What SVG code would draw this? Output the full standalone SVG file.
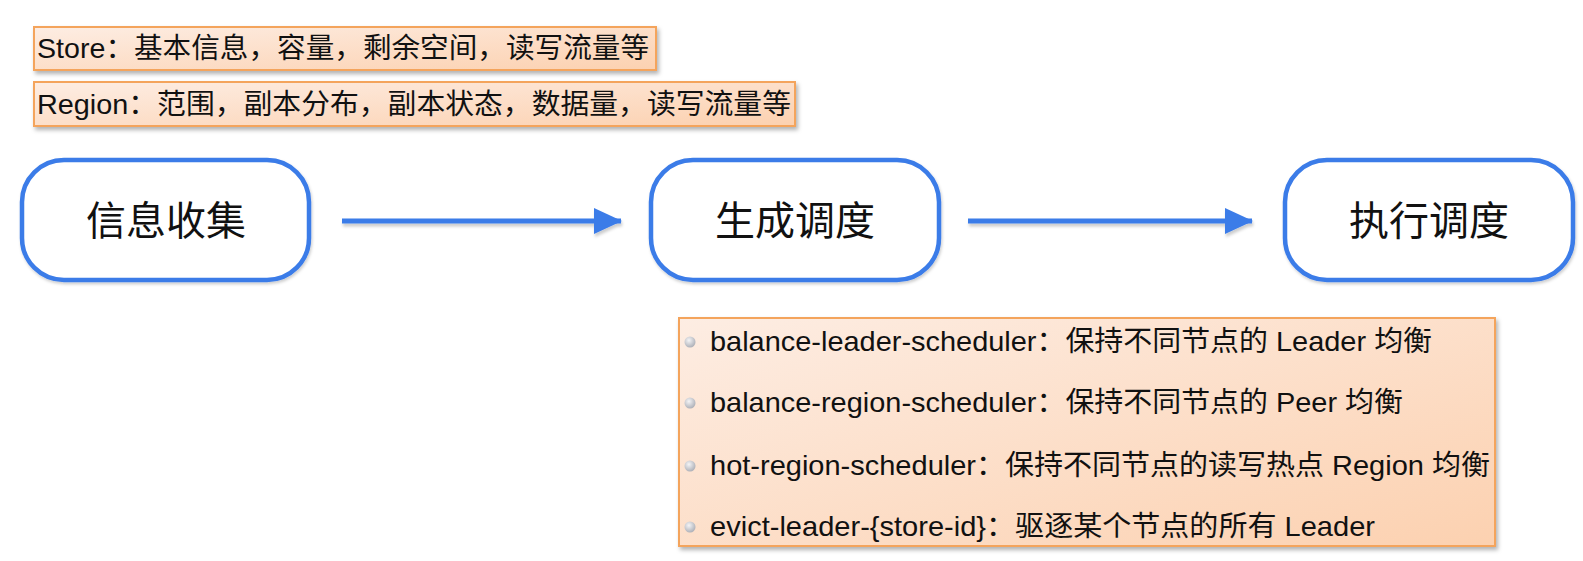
<svg xmlns="http://www.w3.org/2000/svg" width="1583" height="561" viewBox="0 0 1583 561">
<defs>
<linearGradient id="og" x1="0" y1="0" x2="1" y2="1">
<stop offset="0" stop-color="#fdede3"/>
<stop offset="1" stop-color="#fcd1b0"/>
</linearGradient>
<radialGradient id="bul" cx="0.4" cy="0.35" r="0.7">
<stop offset="0" stop-color="#f4f4f6"/>
<stop offset="1" stop-color="#a9acb4"/>
</radialGradient>
<filter id="sh" x="-5%" y="-20%" width="110%" height="150%">
<feDropShadow dx="2" dy="3" stdDeviation="2" flood-color="#000" flood-opacity="0.3"/>
</filter>
<filter id="nsh" x="-5%" y="-10%" width="110%" height="130%">
<feDropShadow dx="1" dy="2" stdDeviation="1.5" flood-color="#000" flood-opacity="0.2"/>
</filter>
<filter id="csh" filterUnits="userSpaceOnUse" x="0" y="0" width="1583" height="561">
<feDropShadow dx="1" dy="3" stdDeviation="1.5" flood-color="#000" flood-opacity="0.2"/>
</filter>
<marker id="ah" viewBox="0 0 28 26" refX="27" refY="13" markerWidth="28" markerHeight="26" markerUnits="userSpaceOnUse" orient="auto">
<path d="M0,0 L28,13 L0,26 Z" fill="#3b7be8"/>
</marker>
</defs>
<style>
.ob{fill:url(#og);stroke:#f4a45c;stroke-width:2;filter:url(#sh)}
.nd{fill:#fff;stroke:#3b7be8;stroke-width:4.5;filter:url(#nsh)}
.t{font-family:"Liberation Sans","Noto Sans CJK SC",sans-serif;fill:#111}
.s{font-size:28px}
.nl{font-size:40px;text-anchor:middle}
.cn{stroke:#3b7be8;stroke-width:5;fill:none}
</style>
<rect width="1583" height="561" fill="#fff"/>
<g id="store-info">
<rect class="ob" x="34" y="27" width="622" height="43"/>
<text class="t s" x="37" y="58" textLength="612" lengthAdjust="spacingAndGlyphs">Store：基本信息，容量，剩余空间，读写流量等</text>
</g>
<g id="region-info">
<rect class="ob" x="34" y="82" width="761" height="44"/>
<text class="t s" x="37" y="114" textLength="754" lengthAdjust="spacingAndGlyphs">Region：范围，副本分布，副本状态，数据量，读写流量等</text>
</g>
<g id="node-collect">
<rect class="nd" x="22" y="160" width="287" height="120" rx="42"/>
<text class="t nl" x="166" y="235">信息收集</text>
</g>
<g id="node-generate">
<rect class="nd" x="651" y="160" width="288" height="120" rx="42"/>
<text class="t nl" x="795" y="235">生成调度</text>
</g>
<g id="node-execute">
<rect class="nd" x="1285" y="160" width="288" height="120" rx="42"/>
<text class="t nl" x="1429" y="235">执行调度</text>
</g>
<g id="connectors" filter="url(#csh)">
<line class="cn" x1="342" y1="221" x2="621" y2="221" marker-end="url(#ah)"/>
<line class="cn" x1="968" y1="221" x2="1252" y2="221" marker-end="url(#ah)"/>
</g>
<g id="schedulers">
<rect class="ob" x="679" y="318" width="816" height="228"/>
<circle cx="690" cy="342" r="5.5" fill="url(#bul)"/>
<circle cx="690" cy="403" r="5.5" fill="url(#bul)"/>
<circle cx="690" cy="466" r="5.5" fill="url(#bul)"/>
<circle cx="690" cy="527" r="5.5" fill="url(#bul)"/>
<text class="t s" x="710" y="351" textLength="722" lengthAdjust="spacingAndGlyphs">balance-leader-scheduler：保持不同节点的 Leader 均衡</text>
<text class="t s" x="710" y="412" textLength="693" lengthAdjust="spacingAndGlyphs">balance-region-scheduler：保持不同节点的 Peer 均衡</text>
<text class="t s" x="710" y="475" textLength="780" lengthAdjust="spacingAndGlyphs">hot-region-scheduler：保持不同节点的读写热点 Region 均衡</text>
<text class="t s" x="710" y="536" textLength="665" lengthAdjust="spacingAndGlyphs">evict-leader-{store-id}：驱逐某个节点的所有 Leader</text>
</g>
</svg>
